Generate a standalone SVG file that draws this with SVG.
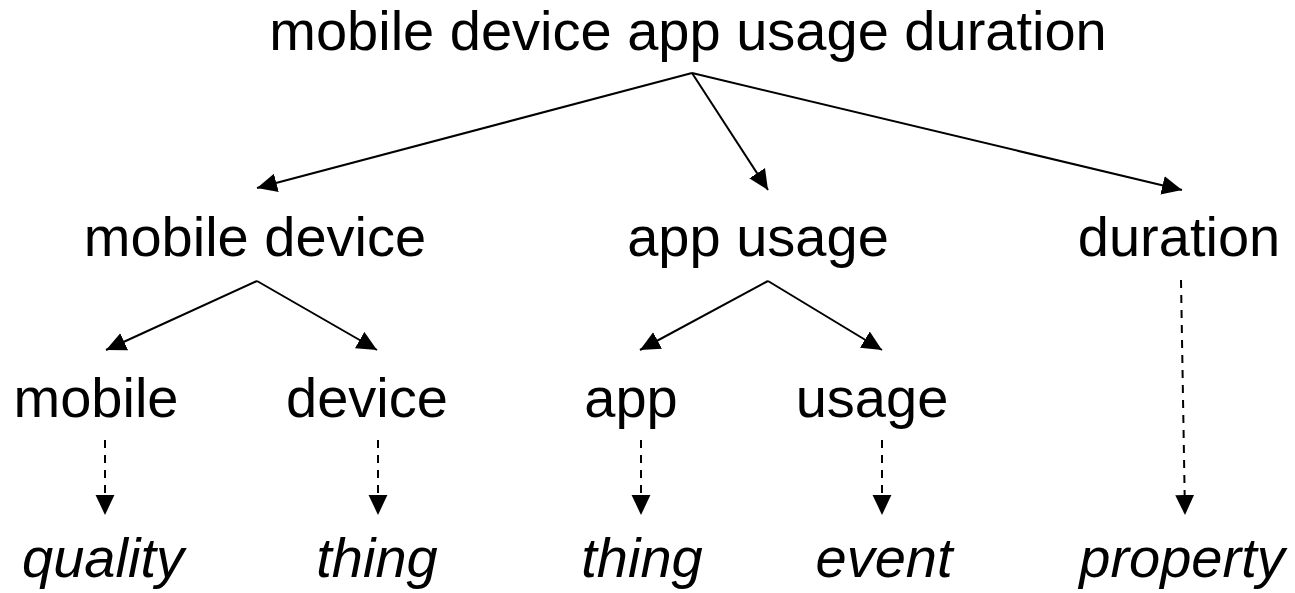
<svg xmlns="http://www.w3.org/2000/svg" width="1295" height="593" viewBox="0 0 1295 593">
  <style>
    .t { font-family: "Liberation Sans", Arial, sans-serif; font-size: 56px; fill: #000; text-anchor: middle; }
    .i { font-style: italic; }
    .e { stroke: #000; stroke-width: 2; fill: none; marker-end: url(#ah); }
    .d { stroke-dasharray: 8 7; }
  </style>
  <defs>
    <marker id="ah" markerUnits="userSpaceOnUse" markerWidth="20" markerHeight="20" viewBox="0 0 17 16" refX="17" refY="8" orient="auto">
      <path d="M0,0 L17,8 L0,16 Z" fill="#000"/>
    </marker>
  </defs>
  <rect width="1295" height="593" fill="#fff"/>
  <g id="connectors">
    <line class="e" x1="692" y1="73" x2="257" y2="188"/>
    <line class="e" x1="692" y1="73" x2="768" y2="190"/>
    <line class="e" x1="692" y1="73" x2="1182" y2="190"/>
    <line class="e" x1="257" y1="281" x2="106" y2="350"/>
    <line class="e" x1="257" y1="281" x2="377" y2="350"/>
    <line class="e" x1="768" y1="281" x2="640" y2="350"/>
    <line class="e" x1="768" y1="281" x2="882" y2="350"/>
    <line class="e d" x1="105" y1="440" x2="105" y2="515"/>
    <line class="e d" x1="378" y1="440" x2="378" y2="515"/>
    <line class="e d" x1="641" y1="440" x2="641" y2="515"/>
    <line class="e d" x1="882" y1="440" x2="882" y2="515"/>
    <line class="e d" x1="1181" y1="280" x2="1185" y2="515"/>
  </g>
  <g id="n-root"><text class="t" x="688" y="50">mobile device app usage duration</text></g>
  <g id="n-mobile-device"><text class="t" x="255" y="256">mobile device</text></g>
  <g id="n-app-usage"><text class="t" x="758" y="256">app usage</text></g>
  <g id="n-duration"><text class="t" x="1179" y="256">duration</text></g>
  <g id="n-mobile"><text class="t" x="96" y="417">mobile</text></g>
  <g id="n-device"><text class="t" x="367" y="417">device</text></g>
  <g id="n-app"><text class="t" x="631" y="417">app</text></g>
  <g id="n-usage"><text class="t" x="872" y="417">usage</text></g>
  <g id="n-quality"><text class="t i" x="103" y="577">quality</text></g>
  <g id="n-thing1"><text class="t i" x="377" y="577">thing</text></g>
  <g id="n-thing2"><text class="t i" x="642" y="577">thing</text></g>
  <g id="n-event"><text class="t i" x="884" y="577">event</text></g>
  <g id="n-property"><text class="t i" x="1182" y="577">property</text></g>
</svg>
